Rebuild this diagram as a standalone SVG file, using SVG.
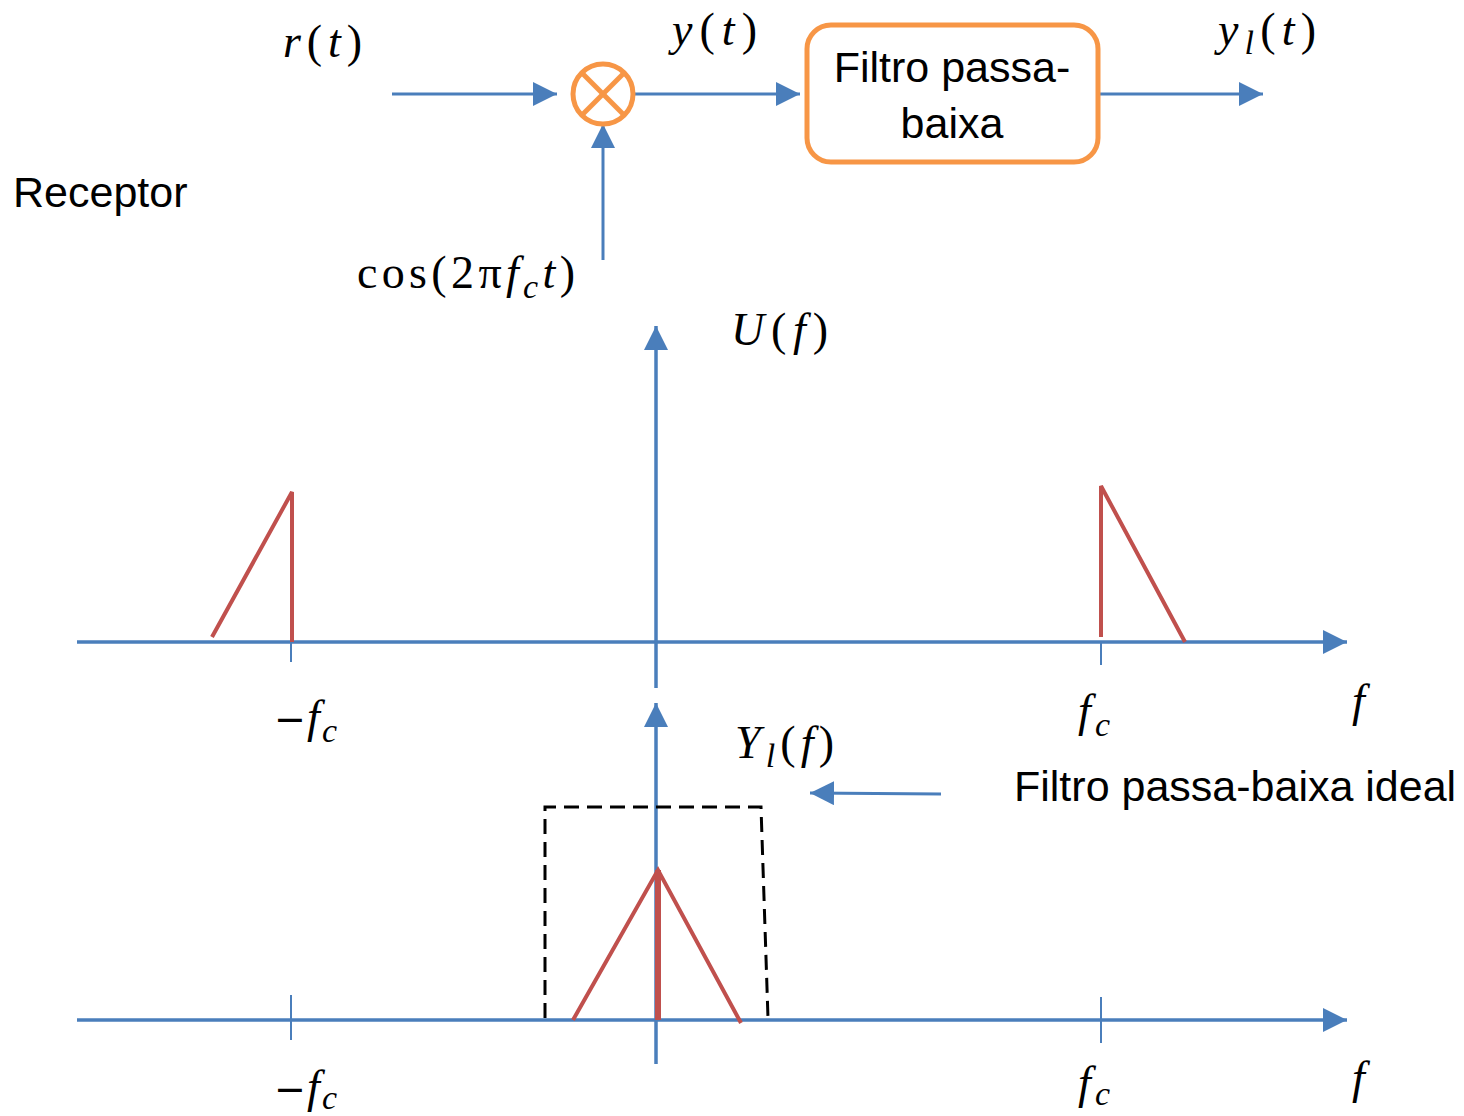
<svg xmlns="http://www.w3.org/2000/svg" width="1464" height="1116" viewBox="0 0 1464 1116">
<defs>
<marker id="ah" markerUnits="userSpaceOnUse" markerWidth="26" markerHeight="26" refX="24" refY="12" orient="auto">
<path d="M0,0 L24,12 L0,24 z" fill="#4A7EBB"/>
</marker>
<style>
.c{stroke:#4A7EBB;stroke-width:3;fill:none}
.ax{stroke:#4A7EBB;stroke-width:3.5;fill:none}
.tk{stroke:#4A7EBB;stroke-width:2;fill:none}
.rd{stroke:#C0504D;stroke-width:4;fill:none;stroke-linecap:butt}
.or{stroke:#F79646;stroke-width:5;fill:#fff}
.m{font-family:"Liberation Serif","DejaVu Serif",serif;font-size:46px;fill:#000}
.i{font-style:italic}
.sb{font-style:italic;font-size:34px}
.mn{font-family:"DejaVu Sans",sans-serif;font-size:38px;font-style:normal}
.s{font-family:"Liberation Sans",Arial,sans-serif;font-size:43px;fill:#000}
</style>
</defs>

<g id="connectors">
<line class="c" x1="392" y1="94" x2="557" y2="94" marker-end="url(#ah)"/>
<line class="c" x1="634" y1="94" x2="800" y2="94" marker-end="url(#ah)"/>
<line class="c" x1="603" y1="260" x2="603" y2="124" marker-end="url(#ah)"/>
<line class="c" x1="1098" y1="94" x2="1263" y2="94" marker-end="url(#ah)"/>
<line class="c" x1="941" y1="794" x2="810" y2="793" marker-end="url(#ah)"/>
</g>

<g id="multiplier">
<circle class="or" cx="603" cy="94" r="30"/>
<line x1="582" y1="73" x2="624" y2="115" stroke="#F79646" stroke-width="5"/>
<line x1="624" y1="73" x2="582" y2="115" stroke="#F79646" stroke-width="5"/>
</g>

<g id="lowpass-filter">
<rect class="or" x="807" y="25" width="291" height="137" rx="24" ry="24"/>
<text class="s" x="952" y="82" text-anchor="middle">Filtro passa-</text>
<text class="s" x="952" y="138" text-anchor="middle">baixa</text>
</g>

<g id="labels-top">
<text class="m" x="283" y="57" textLength="79"><tspan class="i">r</tspan>(<tspan class="i">t</tspan>)</text>
<text class="m" x="672" y="45" textLength="85"><tspan class="i">y</tspan>(<tspan class="i">t</tspan>)</text>
<text class="m" x="1218" y="45" textLength="98"><tspan class="i">y</tspan><tspan class="sb" dy="9">l</tspan><tspan dy="-9">(</tspan><tspan class="i">t</tspan>)</text>
<text class="m" x="357" y="288" textLength="218">cos(2π<tspan class="i">f</tspan><tspan class="sb" dy="10">c</tspan><tspan class="i" dy="-10">t</tspan>)</text>
<text class="s" x="13" y="207">Receptor</text>
</g>

<g id="spectrum-U">
<line class="ax" x1="77" y1="642" x2="1347" y2="642" marker-end="url(#ah)"/>
<line class="ax" x1="656" y1="688" x2="656" y2="326" marker-end="url(#ah)"/>
<line class="tk" x1="291" y1="642" x2="291" y2="662"/>
<line class="tk" x1="1101" y1="642" x2="1101" y2="665"/>
<polyline class="rd" points="212,637 292,492 292,642"/>
<polyline class="rd" points="1101,637 1101,486 1185,642"/>
<text class="m" x="731" y="345" textLength="97"><tspan class="i">U</tspan>(<tspan class="i">f</tspan>)</text>
<text class="m" x="274" y="732"><tspan class="mn">−</tspan><tspan class="i" x="307">f</tspan><tspan class="sb" x="322" dy="10">c</tspan></text>
<text class="m" x="1078" y="726" textLength="32"><tspan class="i">f</tspan><tspan class="sb" dy="10">c</tspan></text>
<text class="m i" x="1352" y="716">f</text>
</g>

<g id="spectrum-Yl">
<line class="ax" x1="77" y1="1020" x2="1347" y2="1020" marker-end="url(#ah)"/>
<line class="ax" x1="656" y1="1064" x2="656" y2="703" marker-end="url(#ah)"/>
<line class="tk" x1="291" y1="995" x2="291" y2="1040"/>
<line class="tk" x1="1101" y1="997" x2="1101" y2="1043"/>
<polyline fill="none" stroke="#000" stroke-width="3" stroke-dasharray="15,8" points="545,1018 545,807 761,807 768,1018"/>
<polyline class="rd" points="573,1020 658,870 741,1023"/>
<line x1="658" y1="870" x2="658" y2="1020" stroke="#C0504D" stroke-width="6"/>
<text class="m" x="735" y="758" textLength="99"><tspan class="i">Y</tspan><tspan class="sb" dy="9">l</tspan><tspan dy="-9">(</tspan><tspan class="i">f</tspan>)</text>
<text class="s" x="1014" y="801">Filtro passa-baixa ideal</text>
<text class="m" x="274" y="1102"><tspan class="mn">−</tspan><tspan class="i" x="307">f</tspan><tspan class="sb" x="322" dy="7">c</tspan></text>
<text class="m" x="1078" y="1098" textLength="32"><tspan class="i">f</tspan><tspan class="sb" dy="7">c</tspan></text>
<text class="m i" x="1352" y="1093">f</text>
</g>
</svg>
